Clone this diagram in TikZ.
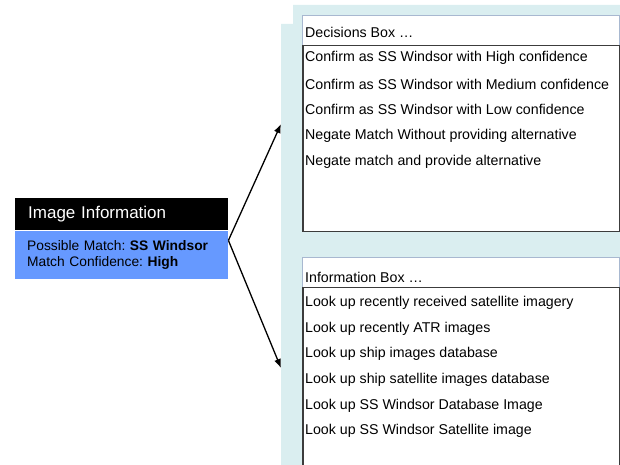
\documentclass[tikz,border=0pt]{standalone}
\usepackage{fontspec}
\setmainfont{Liberation Sans}
\usetikzlibrary{positioning,calc,arrows.meta}
\frenchspacing

\definecolor{panelcyan}{RGB}{218,238,240}
\definecolor{matchblue}{RGB}{102,153,255}
\definecolor{headline}{RGB}{168,184,208}
\definecolor{listline}{RGB}{60,60,60}

\begin{document}
\begin{tikzpicture}[x=1pt,y=-1pt,
    itemtext/.style={anchor=west, inner sep=0pt, font=\fontsize{14.2}{16}\selectfont},
    titlebox/.style={fill=black, text=white, anchor=north west, minimum width=213pt,
        minimum height=32pt, text width=187pt, inner xsep=13pt, inner ysep=0pt,
        align=left, font=\fontsize{17}{20}\selectfont},
    matchbox/.style={fill=matchblue, minimum width=213pt, minimum height=48pt,
        text width=189pt, inner xsep=12pt, inner ysep=0pt, align=left,
        font=\fontsize{13.8}{16}\selectfont},
    pointer/.style={line width=1.3pt, -{Latex[length=9pt,width=7pt]}}]
    \useasboundingbox (0,0) rectangle (620,465);

    % Panel behind the two boxes
    \fill[panelcyan] (281,24) -- (293,24) -- (293,5) -- (620,5) -- (620,465) -- (281,465) -- cycle;

    % Decisions box
    \draw[headline, fill=white] (302.5,15) rectangle (619,45);
    \draw[listline, fill=white] (302.5,45) rectangle (619,231);
    \draw[listline, line width=1.8pt] (303,45) -- (303,231);
    \node[itemtext] (dechead) at (305,32) {Decisions Box …};
    \foreach \txt [count=\i] in {Confirm as SS Windsor with High confidence,
        Confirm as SS Windsor with Medium confidence,
        Confirm as SS Windsor with Low confidence,
        Negate Match Without providing alternative,
        Negate match and provide alternative}
        \node[itemtext] (dec\i) at (305,{32.5+25.8*\i}) {\txt};

    % Information box
    \draw[headline, fill=white] (302.5,257) rectangle (619,287);
    \draw[listline, fill=white] (302.5,287) rectangle (619,470);
    \draw[listline, line width=1.8pt] (303,287) -- (303,470);
    \node[itemtext] (infohead) at (305,277.5) {Information Box …};
    \foreach \txt [count=\i] in {Look up recently received satellite imagery,
        Look up recently ATR images,
        Look up ship images database,
        Look up ship satellite images database,
        Look up SS Windsor Database Image,
        Look up SS Windsor Satellite image}
        \node[itemtext] (look\i) at (305,{277.5+25.6*\i}) {\txt};

    % Image information on the left
    \node[titlebox] (imginfo) at (15,198) {Image Information};
    \node[matchbox, below=0pt of imginfo] (match)
        {Possible Match: \textbf{SS Windsor}\\Match Confidence: \textbf{High}};

    % Arrows to the two boxes
    \coordinate (src) at ($(match.north east)+(0,10)$);
    \coordinate (decend) at (281,124);
    \coordinate (infoend) at (281,368);
    \draw[pointer] (src) -- (decend);
    \draw[pointer] (src) -- (infoend);
\end{tikzpicture}
\end{document}
